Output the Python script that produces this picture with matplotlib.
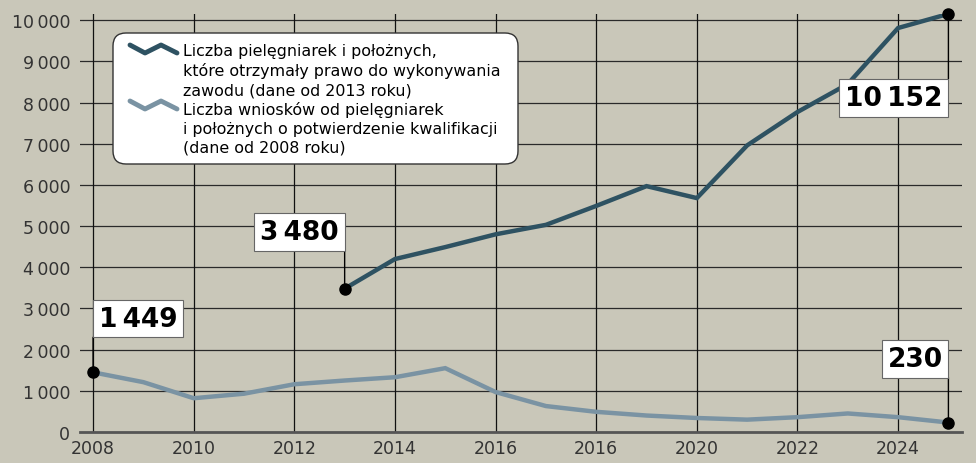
import matplotlib
matplotlib.use("Agg")
import matplotlib.pyplot as plt
from matplotlib.patches import FancyBboxPatch
from matplotlib.lines import Line2D
from matplotlib.transforms import IdentityTransform

# ---- data ----
years_granted = [2013, 2014, 2015, 2016, 2017, 2018, 2019, 2020, 2021, 2022, 2023, 2024, 2025]
granted = [3480, 4200, 4490, 4800, 5030, 5490, 5970, 5680, 6960, 7770, 8450, 9810, 10152]

years_apps = list(range(2008, 2026))
applications = [1449, 1210, 820, 930, 1160, 1250, 1330, 1550, 970, 630, 490, 400,
                340, 300, 360, 450, 360, 230]

xtick_pos = [2008, 2010, 2012, 2014, 2016, 2018, 2020, 2022, 2024]
xtick_labels = ["2008", "2010", "2012", "2014", "2016", "2016", "2020", "2022", "2024"]
ytick_pos = [0, 1000, 2000, 3000, 4000, 5000, 6000, 7000, 8000, 9000, 10000]
ytick_labels = ["0", "1\u2009000", "2\u2009000", "3\u2009000", "4\u2009000", "5\u2009000",
                "6\u2009000", "7\u2009000", "8\u2009000", "9\u2009000", "10\u2009000"]

legend_labels = [
    "Liczba pielęgniarek i położnych,\nktóre otrzymały prawo do wykonywania\nzawodu (dane od 2013 roku)",
    "Liczba wniosków od pielęgniarek\ni położnych o potwierdzenie kwalifikacji\n(dane od 2008 roku)",
]

BG = "#c9c7b9"
DARK = "#2e5262"
LIGHT = "#7a93a3"

plt.rcParams['font.family'] = ['DejaVu Sans']

W, H = 976, 464
fig = plt.figure(figsize=(W / 100, H / 100), dpi=100, facecolor=BG)
ax = fig.add_axes([80 / W, 1 - 433 / H, (962 - 80) / W, (433 - 15) / H])
ax.set_facecolor(BG)
ax.set_xlim(2007.74, 2025.27)
ax.set_ylim(0, 10150)

for y in ytick_pos[1:]:
    ax.axhline(y, color="#2a2a2a", lw=0.9, zorder=1)
for x in xtick_pos:
    ax.axvline(x, color="#111111", lw=0.9, zorder=1)

for s in ["top", "right", "left"]:
    ax.spines[s].set_visible(False)
ax.spines["bottom"].set_color("#555555")
ax.spines["bottom"].set_linewidth(2)

ax.set_xticks(xtick_pos)
ax.set_xticklabels(xtick_labels)
ax.set_yticks(ytick_pos)
ax.set_yticklabels(ytick_labels)
ax.tick_params(axis="both", length=0, labelsize=12.5, colors="#333333")
ax.tick_params(axis="y", pad=7)
ax.tick_params(axis="x", pad=5)

ax.plot(years_apps, applications, color=LIGHT, lw=3.2, zorder=3, solid_joinstyle="miter")
ax.plot(years_granted, granted, color=DARK, lw=3.2, zorder=3, solid_joinstyle="miter")

# endpoint dots
ax.plot([years_apps[0], years_apps[-1]], [applications[0], applications[-1]], "o",
        color="black", ms=8, zorder=5, clip_on=False)
ax.plot([years_granted[0], years_granted[-1]], [granted[0], granted[-1]], "o",
        color="black", ms=8, zorder=5, clip_on=False)

FS = 19
PADF = 0.22
PADPX = PADF * FS * 100 / 72

def label(x, y, txt, dx, dy, ha, va):
    # vertical connector from point to box edge
    ax.annotate("", xy=(x, y), xytext=(0, dy), textcoords="offset pixels",
                arrowprops=dict(arrowstyle="-", color="black", lw=1, shrinkA=0, shrinkB=0),
                annotation_clip=False, zorder=4)
    ax.annotate(txt, xy=(x, y), xytext=(dx, dy + (PADPX if va == "bottom" else -PADPX)),
                textcoords="offset pixels",
                ha=ha, va=va, fontsize=FS, fontweight="bold", color="black", zorder=6,
                bbox=dict(boxstyle=f"square,pad={PADF}", fc="white", ec="#666666", lw=0.8),
                annotation_clip=False)

label(years_apps[0], applications[0], "1\u2009449", PADPX, 35, "left", "bottom")
label(years_granted[0], granted[0], "3\u2009480", -PADPX, 38, "right", "bottom")
label(years_granted[-1], granted[-1], "10\u2009152", -PADPX, -65, "right", "top")
label(years_apps[-1], applications[-1], "230", -PADPX, 45, "right", "bottom")

# legend (manual, in pixel coordinates)
box = FancyBboxPatch((113, H - 165), 518 - 113, 165 - 34,
                     boxstyle="round,pad=0,rounding_size=13",
                     transform=IdentityTransform(), fc="white", ec="#333333", lw=1.0,
                     zorder=10)
fig.patches.append(box)

def zig(x0, y0, color):
    xs = [x0, x0 + 15, x0 + 31, x0 + 47]
    ys = [y0 - 4, y0 + 4, y0 - 4, y0 + 4]
    ys = [H - v for v in ys]
    ln = Line2D(xs, ys, transform=IdentityTransform(), color=color, lw=3.5,
                solid_joinstyle="round", solid_capstyle="round", zorder=11)
    fig.lines.append(ln)

zig(130, 50, DARK)
zig(130, 106, LIGHT)
fig.text(183 / W, 1 - 44 / H, legend_labels[0] + "\n" + legend_labels[1], fontsize=11.4,
         va="top", ha="left", linespacing=1.32, color="black", zorder=12)

fig.savefig("out.png", dpi=100, facecolor=BG)
